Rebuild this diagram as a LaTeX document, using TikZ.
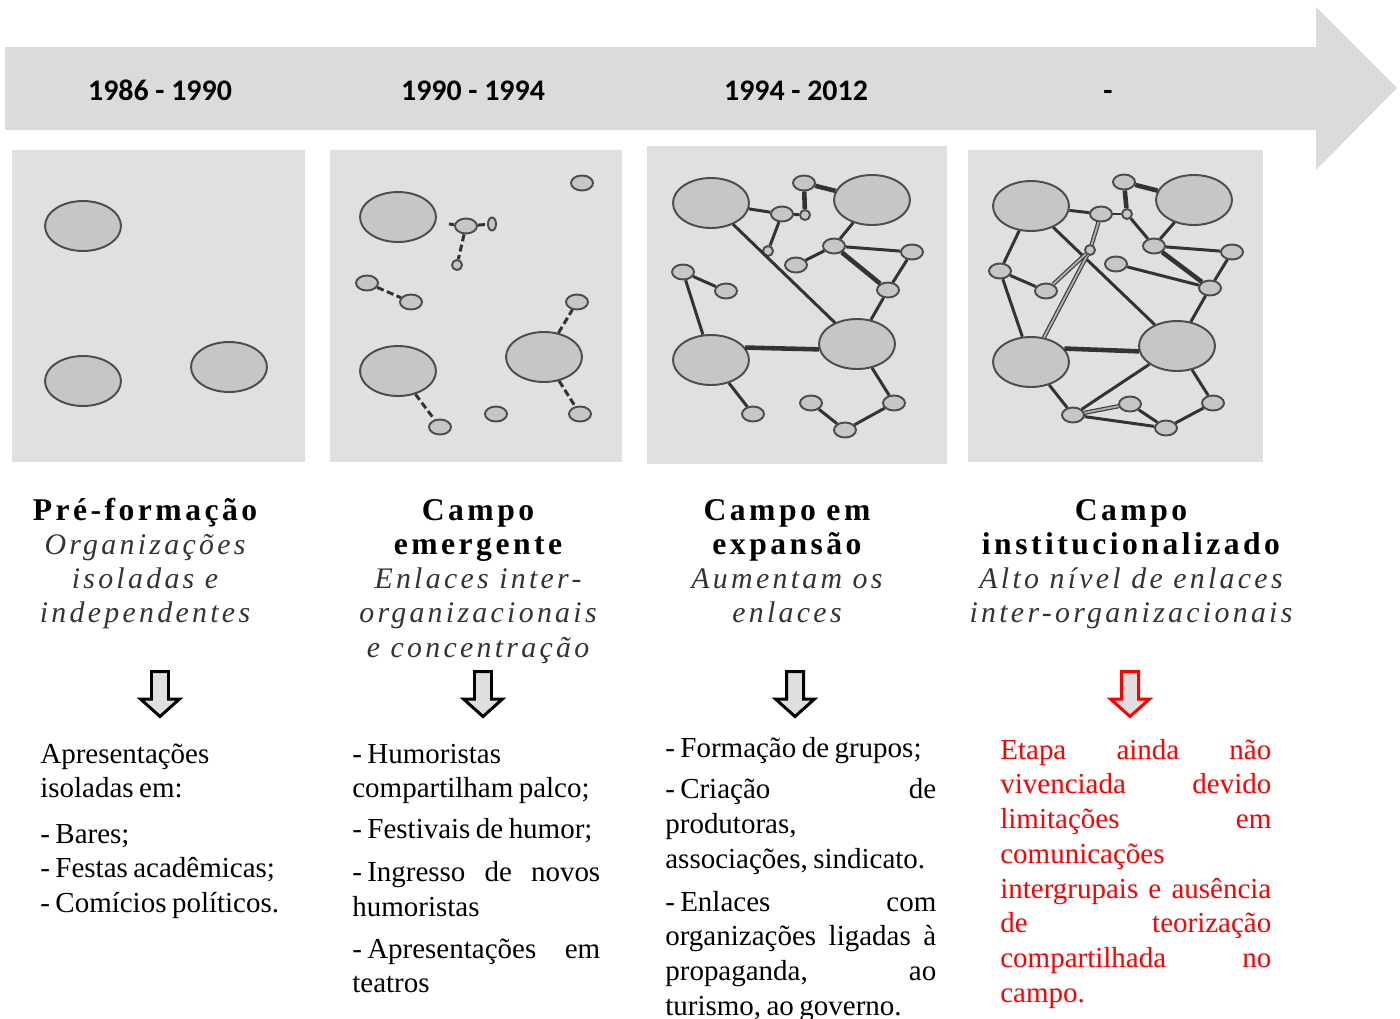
\documentclass[tikz,border=0pt]{standalone}
\usepackage{fontspec}
\usepackage{xcolor}
\setmainfont{Liberation Serif}[WordSpace=0.75]
\newfontfamily\yearfont{Carlito}
\newfontfamily\stagefont[LetterSpace=11]{Liberation Serif}
\usetikzlibrary{shapes.geometric}

\newcommand{\jline}[1]{\makebox[\hsize][s]{#1}}
\newcommand{\itemdash}{-\kern3pt}
\newcommand{\stagesub}{\mdseries\itshape\fontsize{17}{19.5}\selectfont\color{black!80}}

\tikzset{
    band/.style={fill=gray!28},
    panel/.style={fill=gray!24},
    org/.style={ellipse, draw=black!70, fill=gray!45, line width=1.1pt, inner sep=0pt},
    bigorg/.style={org, minimum width=1.52cm, minimum height=1cm},
    smallorg/.style={org, minimum width=0.44cm, minimum height=0.3cm},
    tinyorg/.style={org, minimum width=0.2cm, minimum height=0.2cm},
    link/.style={draw=black!80, line width=1.7pt},
    heavy/.style={link, line width=2.6pt},
    weak/.style={link, dash pattern=on 4pt off 2pt},
    twin/.style={draw=black!75, double=gray!60, double distance=1pt, line width=0.7pt},
    year/.style={anchor=base, font={\yearfont\bfseries\fontsize{17}{20}\selectfont}},
    stage/.style={anchor=base, inner sep=0pt, text width=7cm, align=center, font={\stagefont\bfseries\fontsize{18}{19.5}\selectfont}},
    detail/.style={anchor=base west, inner sep=0pt, align=flush left, font={\fontsize{16.5}{19.8}\selectfont}},
    down/.style={line width=1.7pt, fill=gray!25, line join=miter}
}

\begin{document}
\begin{tikzpicture}[x=0.02cm, y=-0.02cm]
    \useasboundingbox (0,0) rectangle (1400,1018);

    \fill[band] (5,47) -- (1316,47) -- (1316,7) -- (1397,88) -- (1316,170) -- (1316,130) -- (5,130) -- cycle;
    \node[year] (year1) at (160,100) {1986 - 1990};
    \node[year] (year2) at (473,100) {1990 - 1994};
    \node[year] (year3) at (796,100) {1994 - 2012};
    \node[year] (year4) at (1108,100) {-};

    \fill[panel] (12,150) rectangle (305,462);
    \fill[panel] (330,150) rectangle (622,462);
    \fill[panel] (647,146) rectangle (947,464);
    \fill[panel] (968,150) rectangle (1263,462);

    \node[bigorg] (a1) at (83,226) {};
    \node[bigorg] (a2) at (83,381) {};
    \node[bigorg] (a3) at (229,367) {};

    \node[bigorg] (b1) at (398,217) {};
    \node[bigorg] (b2) at (398,371) {};
    \node[bigorg] (b3) at (544,357) {};
    \node[smallorg] (b4) at (466,226) {};
    \node[org, minimum width=0.16cm, minimum height=0.26cm] (b5) at (492,224) {};
    \node[tinyorg] (b6) at (457,265) {};
    \node[smallorg] (b7) at (582,183) {};
    \node[smallorg] (b8) at (367,283) {};
    \node[smallorg] (b9) at (411,302) {};
    \node[smallorg] (b10) at (440,427) {};
    \node[smallorg] (b11) at (496,414) {};
    \node[smallorg] (b12) at (577,302) {};
    \node[smallorg] (b13) at (580,414) {};
    \coordinate (b4stub) at (449,224);
    \draw[weak] (b4stub) -- (b4);
    \draw[weak] (b4) -- (b5);
    \draw[weak] (b4) -- (b6);
    \draw[weak] (b8) -- (b9);
    \draw[weak] (b2) -- (b10);
    \draw[weak] (b3) -- (b12);
    \draw[weak] (b3) -- (b13);

    \node[bigorg] (c1) at (711,203) {};
    \node[bigorg] (c2) at (872,200) {};
    \node[bigorg] (c3) at (711,360) {};
    \node[bigorg] (c4) at (857,344) {};
    \node[smallorg] (c5) at (804,183) {};
    \node[smallorg] (c6) at (782,214) {};
    \node[tinyorg] (c7) at (805,215) {};
    \node[tinyorg] (c8) at (768,251) {};
    \node[smallorg] (c9) at (834,246) {};
    \node[smallorg] (c10) at (912,252) {};
    \node[smallorg] (c11) at (796,265) {};
    \node[smallorg] (c12) at (888,290) {};
    \node[smallorg] (c13) at (683,272) {};
    \node[smallorg] (c14) at (726,291) {};
    \node[smallorg] (c15) at (753,414) {};
    \node[smallorg] (c16) at (811,403) {};
    \node[smallorg] (c17) at (894,403) {};
    \node[smallorg] (c18) at (845,430) {};
    \draw[link] (c1) -- (c6);
    \draw[link] (c6) -- (c7);
    \draw[link] (c6) -- (c8);
    \draw[link] (c1) -- (c4);
    \draw[link] (c2) -- (c9);
    \draw[link] (c9) -- (c11);
    \draw[link] (c9) -- (c10);
    \draw[link] (c10) -- (c12);
    \draw[link] (c12) -- (c4);
    \draw[link] (c13) -- (c14);
    \draw[link] (c13) -- (c3);
    \draw[link] (c3) -- (c15);
    \draw[link] (c4) -- (c17);
    \draw[link] (c17) -- (c18);
    \draw[link] (c18) -- (c16);
    \draw[heavy] (c7) -- (c5);
    \draw[heavy] (c5) -- (c2);
    \draw[heavy] (c3.20) -- (c4.188);
    \draw[heavy] (c9) -- (c12);

    \node[bigorg] (d1) at (1031,206) {};
    \node[bigorg] (d2) at (1194,200) {};
    \node[bigorg] (d3) at (1031,362) {};
    \node[bigorg] (d4) at (1177,346) {};
    \node[smallorg] (d5) at (1124,182) {};
    \node[smallorg] (d6) at (1101,214) {};
    \node[tinyorg] (d7) at (1127,214) {};
    \node[tinyorg] (d8) at (1090,250) {};
    \node[smallorg] (d9) at (1154,246) {};
    \node[smallorg] (d10) at (1232,252) {};
    \node[smallorg] (d11) at (1116,264) {};
    \node[smallorg] (d12) at (1210,288) {};
    \node[smallorg] (d13) at (1000,271) {};
    \node[smallorg] (d14) at (1046,291) {};
    \node[smallorg] (d15) at (1073,415) {};
    \node[smallorg] (d16) at (1130,404) {};
    \node[smallorg] (d17) at (1213,403) {};
    \node[smallorg] (d18) at (1166,428) {};
    \draw[link] (d1) -- (d6);
    \draw[link] (d6) -- (d7);
    \draw[link] (d1) -- (d13);
    \draw[link] (d13) -- (d14);
    \draw[link] (d13) -- (d3);
    \draw[link] (d1) -- (d4);
    \draw[link] (d7) -- (d9);
    \draw[link] (d2) -- (d9);
    \draw[link] (d9) -- (d10);
    \draw[link] (d10) -- (d12);
    \draw[link] (d11) -- (d12);
    \draw[link] (d12) -- (d4);
    \draw[link] (d4) -- (d15);
    \draw[link] (d3) -- (d15);
    \draw[link] (d15) -- (d18);
    \draw[link] (d16) -- (d18);
    \draw[link] (d18) -- (d17);
    \draw[link] (d4) -- (d17);
    \draw[heavy] (d7) -- (d5);
    \draw[heavy] (d5) -- (d2);
    \draw[heavy] (d3.22) -- (d4.188);
    \draw[heavy] (d9) -- (d12);
    \draw[twin] (d6) -- (d8);
    \draw[twin] (d8) -- (d3);
    \draw[twin] (d8) -- (d14);
    \draw[twin] (d15) -- (d16);

    \node[stage] (stage1) at (145,520) {Pré-formação\\ {\stagesub Organizações\\ isoladas e\\ independentes}};
    \node[stage] (stage2) at (478,520) {Campo\\ emergente\\ {\stagesub Enlaces inter-\\ organizacionais\\ e concentração}};
    \node[stage] (stage3) at (787,520) {Campo em\\ expansão\\ {\stagesub Aumentam os\\ enlaces}};
    \node[stage] (stage4) at (1131,520) {Campo\\ institucionalizado\\ {\stagesub Alto nível de enlaces\\ inter-organizacionais}};

    \foreach \ax/\acol in {160/black, 483/black, 795/black, 1130/red}
        \draw[down, draw=\acol] (\ax-8.5,671.5) -- (\ax+8.5,671.5) -- (\ax+8.5,699) -- (\ax+19.5,699) -- (\ax,716.5) -- (\ax-19.5,699) -- (\ax-8.5,699) -- cycle;

    \node[detail, text width=5.5cm] (facts1) at (40,763) {Apresentações\\ isoladas em:\\[6pt] - Bares;\\ - Festas acadêmicas;\\ - Comícios políticos.};
    \node[detail, text width=4.96cm] (facts2) at (352,763) {- Humoristas\\ compartilham palco;\\[3.5pt] - Festivais de humor;\\[4.5pt] \jline{\itemdash Ingresso de novos}\\ humoristas\\[4pt] \jline{\itemdash Apresentações em}\\ teatros};
    \node[detail, text width=5.42cm] (facts3) at (665,757) {- Formação de grupos;\\[4pt] \jline{\itemdash Criação de}\\ produtoras,\\ associações, sindicato.\\[4.5pt] \jline{\itemdash Enlaces com}\\ \jline{organizações ligadas à}\\ \jline{propaganda, ao}\\ turismo, ao governo.};
    \node[detail, text width=5.42cm, text=red] (facts4) at (1000,759) {\jline{Etapa ainda não}\\ \jline{vivenciada devido}\\ \jline{limitações em}\\ comunicações\\ \jline{intergrupais e ausência}\\ \jline{de teorização}\\ \jline{compartilhada no}\\ campo.};
\end{tikzpicture}
\end{document}
